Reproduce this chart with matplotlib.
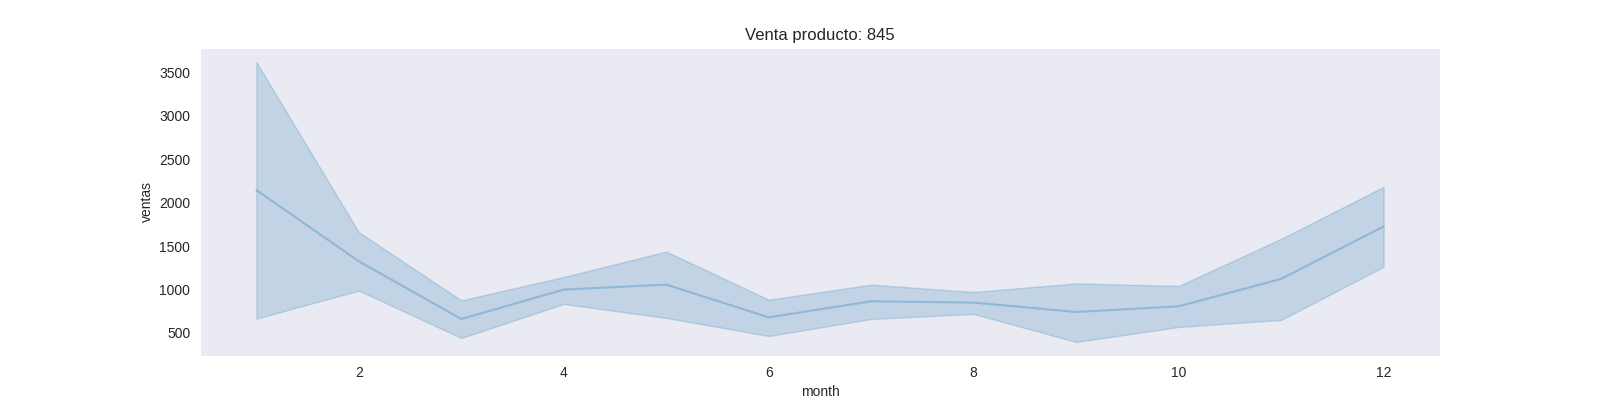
import matplotlib

matplotlib.use("Agg")
import matplotlib.pyplot as plt
import seaborn as sns

# Monthly sales for product 845: mean and confidence band
months = [1, 2, 3, 4, 5, 6, 7, 8, 9, 10, 11, 12]
ventas_mean = [2146, 1326, 661, 1000, 1057, 680, 865, 850, 742, 807, 1123, 1727]
ventas_low = [665, 988, 442, 834, 673, 465, 661, 719, 396, 569, 650, 1262]
ventas_high = [3622, 1661, 876, 1146, 1438, 884, 1057, 973, 1072, 1042, 1585, 2184]

sns.set_style("dark")
plt.rcParams["font.family"] = ["Liberation Sans", "DejaVu Sans"]

fig, ax = plt.subplots(figsize=(16, 4), dpi=100)
ax.fill_between(months, ventas_low, ventas_high, color="tab:blue", alpha=0.2, linewidth=1)
ax.plot(months, ventas_mean, color="tab:blue", alpha=0.3, linewidth=1.5)

ax.set_title("Venta producto: 845")
ax.set_xlabel("month")
ax.set_ylabel("ventas")

fig.savefig("out.png", dpi=100)
